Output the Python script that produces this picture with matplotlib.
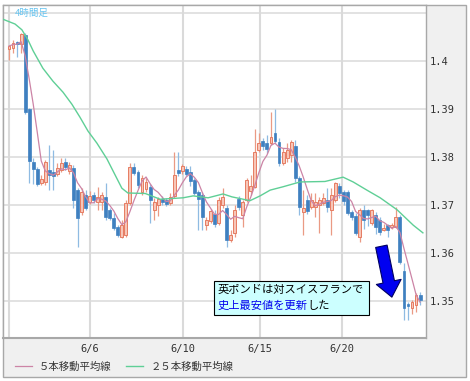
import numpy as np
import pandas as pd
import matplotlib
matplotlib.use("Agg")
import matplotlib.pyplot as plt
from matplotlib.patches import Rectangle, FancyArrowPatch

# 4h candles, GBP/CHF
opens = [1.4025, 1.4027, 1.4040, 1.4036, 1.4054, 1.3900, 1.3790, 1.3775, 1.3746, 1.3748,
         1.3773, 1.3769, 1.3765, 1.3773, 1.3790, 1.3771, 1.3777, 1.3731, 1.3685, 1.3721,
         1.3706, 1.3721, 1.3706, 1.3706, 1.3717, 1.3690, 1.3673, 1.3654, 1.3633, 1.3638,
         1.3704, 1.3779, 1.3769, 1.3727, 1.3733, 1.3737, 1.3690, 1.3700, 1.3712, 1.3710,
         1.3704, 1.3719, 1.3773, 1.3771, 1.3775, 1.3769, 1.3752, 1.3727, 1.3721, 1.3658,
         1.3667, 1.3681, 1.3663, 1.3700, 1.3694, 1.3627, 1.3642, 1.3713, 1.3679, 1.3710,
         1.3729, 1.3738, 1.3815, 1.3833, 1.3829, 1.3829, 1.3850, 1.3831, 1.3787, 1.3798,
         1.3804, 1.3823, 1.3756, 1.3685, 1.3710, 1.3696, 1.3696, 1.3700, 1.3704, 1.3710,
         1.3690, 1.3710, 1.3740, 1.3727, 1.3727, 1.3685, 1.3677, 1.3634, 1.3690, 1.3690,
         1.3663, 1.3679, 1.3669, 1.3648, 1.3658, 1.3654, 1.3654, 1.3675, 1.3562, 1.3494,
         1.3485, 1.3492, 1.3513]
highs = [1.4034, 1.4044, 1.4042, 1.4058, 1.4058, 1.3902, 1.3798, 1.3779, 1.3763, 1.3794,
         1.3825, 1.3815, 1.3787, 1.3798, 1.3798, 1.3790, 1.3783, 1.3735, 1.3735, 1.3731,
         1.3729, 1.3727, 1.3738, 1.3727, 1.3746, 1.3694, 1.3683, 1.3658, 1.3669, 1.3710,
         1.3787, 1.3787, 1.3773, 1.3763, 1.3756, 1.3744, 1.3715, 1.3717, 1.3719, 1.3715,
         1.3725, 1.3810, 1.3810, 1.3785, 1.3781, 1.3781, 1.3756, 1.3731, 1.3727, 1.3675,
         1.3692, 1.3690, 1.3717, 1.3735, 1.3700, 1.3648, 1.3700, 1.3719, 1.3710, 1.3756,
         1.3763, 1.3858, 1.3850, 1.3840, 1.3846, 1.3894, 1.3900, 1.3840, 1.3819, 1.3829,
         1.3835, 1.3835, 1.3760, 1.3731, 1.3721, 1.3725, 1.3725, 1.3717, 1.3725, 1.3735,
         1.3735, 1.3748, 1.3746, 1.3731, 1.3731, 1.3690, 1.3683, 1.3694, 1.3700, 1.3692,
         1.3692, 1.3685, 1.3675, 1.3660, 1.3660, 1.3663, 1.3696, 1.3679, 1.3579, 1.3498,
         1.3502, 1.3517, 1.3519]
lows = [1.4002, 1.4017, 1.4008, 1.4017, 1.3890, 1.3746, 1.3744, 1.3740, 1.3742, 1.3742,
        1.3731, 1.3731, 1.3760, 1.3769, 1.3773, 1.3765, 1.3694, 1.3613, 1.3679, 1.3690,
        1.3702, 1.3704, 1.3690, 1.3690, 1.3669, 1.3669, 1.3648, 1.3633, 1.3631, 1.3633,
        1.3700, 1.3763, 1.3735, 1.3721, 1.3727, 1.3663, 1.3669, 1.3677, 1.3700, 1.3698,
        1.3700, 1.3715, 1.3760, 1.3765, 1.3760, 1.3740, 1.3721, 1.3648, 1.3648, 1.3648,
        1.3663, 1.3654, 1.3658, 1.3694, 1.3613, 1.3623, 1.3633, 1.3690, 1.3654, 1.3706,
        1.3721, 1.3735, 1.3810, 1.3815, 1.3808, 1.3825, 1.3829, 1.3781, 1.3783, 1.3790,
        1.3790, 1.3748, 1.3679, 1.3638, 1.3681, 1.3692, 1.3675, 1.3642, 1.3700, 1.3685,
        1.3638, 1.3706, 1.3715, 1.3700, 1.3679, 1.3669, 1.3638, 1.3623, 1.3650, 1.3656,
        1.3658, 1.3640, 1.3638, 1.3646, 1.3633, 1.3650, 1.3652, 1.3577, 1.3460, 1.3460,
        1.3473, 1.3477, 1.3492]
closes = [1.4031, 1.4038, 1.4036, 1.4056, 1.3894, 1.3792, 1.3775, 1.3744, 1.3754, 1.3790,
          1.3763, 1.3760, 1.3777, 1.3787, 1.3779, 1.3783, 1.3710, 1.3673, 1.3727, 1.3694,
          1.3719, 1.3710, 1.3717, 1.3721, 1.3675, 1.3673, 1.3652, 1.3638, 1.3658, 1.3704,
          1.3779, 1.3767, 1.3742, 1.3756, 1.3748, 1.3710, 1.3706, 1.3712, 1.3706, 1.3702,
          1.3717, 1.3763, 1.3767, 1.3781, 1.3765, 1.3750, 1.3725, 1.3712, 1.3675, 1.3669,
          1.3687, 1.3660, 1.3710, 1.3717, 1.3627, 1.3638, 1.3690, 1.3696, 1.3706, 1.3752,
          1.3740, 1.3810, 1.3829, 1.3823, 1.3817, 1.3842, 1.3833, 1.3788, 1.3810, 1.3815,
          1.3831, 1.3756, 1.3696, 1.3694, 1.3687, 1.3710, 1.3706, 1.3710, 1.3715, 1.3696,
          1.3721, 1.3746, 1.3725, 1.3708, 1.3683, 1.3675, 1.3642, 1.3690, 1.3669, 1.3679,
          1.3690, 1.3654, 1.3644, 1.3652, 1.3648, 1.3658, 1.3675, 1.3581, 1.3485, 1.3490,
          1.3498, 1.3513, 1.3502]

# 25-bar moving average, sampled along the drawn line (bar position, value)
ma25_pos = [-1.5, 1.5, 3.2, 4.7, 6.0, 8.4, 10.9, 13.4, 15.6, 17.6, 19.6, 21.8, 24.3, 26.3,
            28.0, 29.5, 33.8, 37.5, 43.2, 45.7, 49.4, 53.1, 55.3, 59.8, 62.3, 64.8, 68.0,
            72.2, 78.4, 82.9, 85.4, 88.8, 92.1, 96.3, 100.3, 102.7]
ma25_val = [1.4087, 1.4077, 1.4065, 1.4044, 1.4021, 1.3985, 1.3958, 1.3935, 1.3910, 1.3883,
            1.3854, 1.3829, 1.3796, 1.3763, 1.3735, 1.3725, 1.3724, 1.3712, 1.3715, 1.3719,
            1.3715, 1.3723, 1.3717, 1.3709, 1.3719, 1.3731, 1.3738, 1.3748, 1.3749, 1.3758,
            1.3748, 1.3731, 1.3715, 1.3690, 1.3658, 1.3642]

date_ticks = [0.07, 20.1, 43.25, 62.36, 82.55]
date_labels = ["", "6/6", "6/10", "6/15", "6/20"]
price_ticks = [1.35, 1.36, 1.37, 1.38, 1.39, 1.40, 1.41]
price_labels = ["1.35", "1.36", "1.37", "1.38", "1.39", "1.4", ""]

W, H = 470, 381
JP = "Noto Sans CJK JP"
MONO = "DejaVu Sans Mono"

fig = plt.figure(figsize=(W / 100, H / 100), dpi=100)
fig.patch.set_facecolor("white")

def fx(px):
    return px / W

def fy(py):
    return 1 - py / H

# grey frame with the right/bottom panels
fig.add_artist(Rectangle((fx(3), fy(377)), fx(463), 372 / H, transform=fig.transFigure,
                         facecolor="#f0f0f0", edgecolor="#a8a8a8", lw=1, zorder=0))

ax = fig.add_axes([fx(3), fy(338), fx(423), 333 / H])
ax.set_facecolor("white")
ax.set_axisbelow(True)

idx = np.arange(len(closes))
o = np.array(opens)
c = np.array(closes)
hi = np.array(highs)
lo = np.array(lows)
up = c >= o

# wicks
ax.vlines(idx[up], lo[up], hi[up], color="#ea9a84", lw=0.9, zorder=2)
ax.vlines(idx[~up], lo[~up], hi[~up], color="#8fbbe2", lw=0.9, zorder=2)
# bodies
bottom = np.minimum(o, c)
height = np.maximum(np.abs(c - o), 0.00008)
ax.bar(idx[up], height[up], bottom=bottom[up], width=0.72, color="#f7c6b8",
       edgecolor="#e67c62", linewidth=0.7, zorder=3)
ax.bar(idx[~up], height[~up], bottom=bottom[~up], width=0.72, color="#3f80c0",
       edgecolor="#3f80c0", linewidth=0.5, zorder=3)

ma5 = pd.Series(closes).rolling(5, min_periods=1).mean()
l5, = ax.plot(idx, ma5, color="#cc84a6", lw=0.9, zorder=4)
l25, = ax.plot(ma25_pos, ma25_val, color="#5fcf96", lw=1.0, zorder=4)

ax.set_xlim(-1.49, 103.47)
ax.set_ylim(1.342292, 1.411667)

ax.set_xticks(date_ticks)
ax.set_xticklabels(date_labels, family=MONO, fontsize=7.5, color="#333333")
ax.set_yticks(price_ticks)
ax.set_yticklabels(price_labels, family=MONO, fontsize=7.5, color="#333333")
ax.yaxis.tick_right()
ax.tick_params(axis="x", length=0, pad=4.5)
ax.tick_params(axis="y", length=0, pad=2.5)
ax.grid(axis="y", color="#dadada", lw=1.1)
ax.grid(axis="x", color="#dadada", lw=1.5)
for s in ax.spines.values():
    s.set_color("#a8a8a8")
    s.set_linewidth(1.0)
ax.spines["bottom"].set_linewidth(1.5)

fig.text(fx(15), fy(13), "4時間足", family=JP, fontsize=6.8, color="#66c4f0",
         va="center", ha="left")

# arrow pointing at the low
arrow = FancyArrowPatch((92.4, 1.3614), (95.0, 1.3508),
                        arrowstyle="simple,head_length=0.8,head_width=1.3,tail_width=0.6",
                        mutation_scale=14, facecolor="#0000f0", edgecolor="#000060",
                        lw=0.8, shrinkA=0, shrinkB=0, zorder=6)
ax.add_patch(arrow)

# comment box
fig.add_artist(Rectangle((fx(214), fy(315)), fx(155), 34 / H, transform=fig.transFigure,
                         facecolor="#ccffff", edgecolor="black", lw=0.8, zorder=5))
fig.text(fx(217.5), fy(290), "英ポンドは対スイスフランで", family=JP, fontsize=8.1,
         color="black", va="center", ha="left", zorder=6)
t_blue = fig.text(fx(217.5), fy(306), "史上最安値を更新", family=JP, fontsize=8.1,
                  color="#0000ee", va="center", ha="left", zorder=6)
r = fig.canvas.get_renderer()
bb = t_blue.get_window_extent(renderer=r)
fig.text(bb.x1 / W, fy(306), "した", family=JP, fontsize=8.1,
         color="black", va="center", ha="left", zorder=6)

# legend
fig.legend([l5, l25], ["５本移動平均線", "２５本移動平均線"], loc="center left",
           bbox_to_anchor=(fx(15), fy(367)), ncol=2, frameon=False,
           handlelength=1.6, handletextpad=0.7, columnspacing=1.4,
           borderpad=0, borderaxespad=0,
           prop={"family": JP, "size": 7.5}, labelcolor="#333333")

fig.savefig("out.png", dpi=100)
